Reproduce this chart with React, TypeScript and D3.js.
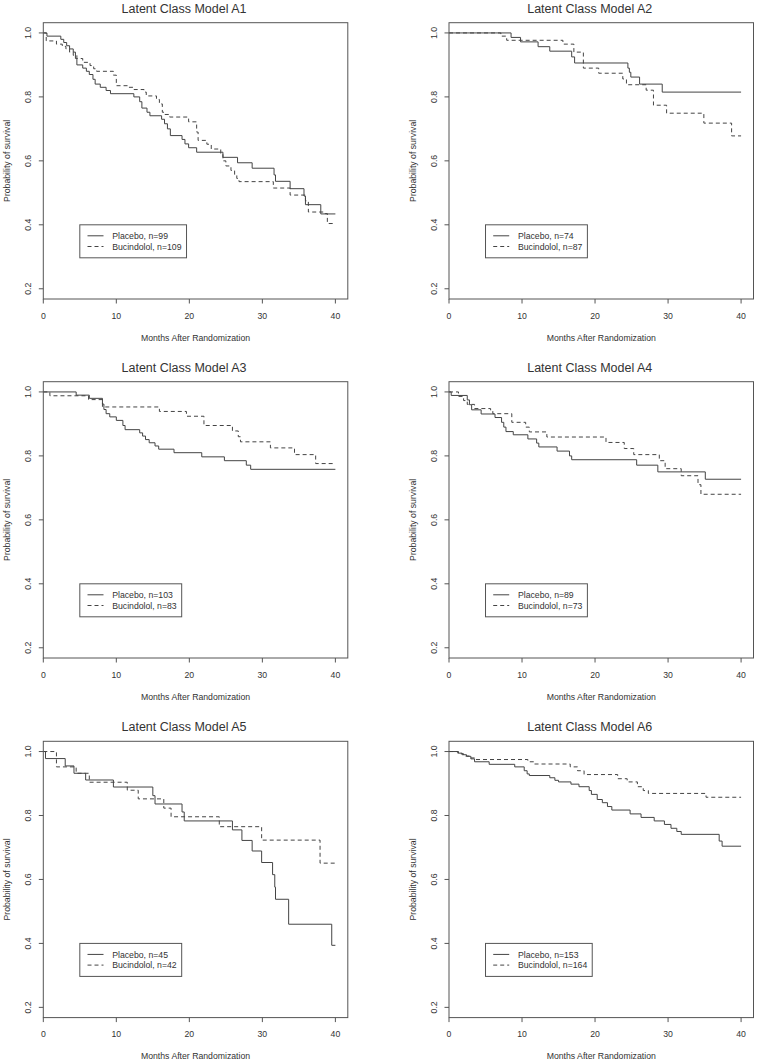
import React from 'react';
import * as d3 from 'd3';

type Pt = [number, number];

const titles = [
  'Latent Class Model A1',
  'Latent Class Model A2',
  'Latent Class Model A3',
  'Latent Class Model A4',
  'Latent Class Model A5',
  'Latent Class Model A6',
];
const placeboN = [99, 74, 103, 89, 45, 153];
const bucindololN = [109, 87, 83, 73, 42, 164];
const xTicks = [0, 10, 20, 30, 40];
const yTicks = [0.2, 0.4, 0.6, 0.8, 1.0];
const xLabel = 'Months After Randomization';
const yLabel = 'Probability of survival';

// [time (months), survival after that time]
const a1Placebo: Pt[] = [
  [0.5, 0.99], [2.4, 0.98], [2.8, 0.97], [3.2, 0.96], [3.6, 0.95], [4.1, 0.94], [4.4, 0.92], [4.6, 0.9],
  [5.4, 0.89], [5.9, 0.88], [6.3, 0.87], [6.8, 0.855], [7.1, 0.84], [7.8, 0.83], [8.6, 0.82], [9.2, 0.81],
  [12.4, 0.8], [13.2, 0.785], [13.5, 0.765], [14.2, 0.752], [14.6, 0.741], [16.2, 0.73], [16.6, 0.716],
  [17.0, 0.7], [17.4, 0.679], [19.0, 0.667], [19.4, 0.653], [19.9, 0.641], [21.0, 0.627], [24.6, 0.611],
  [26.6, 0.594], [28.6, 0.577], [31.6, 0.556], [31.8, 0.536], [33.8, 0.513], [35.7, 0.49], [35.9, 0.463],
  [38.0, 0.434],
];
const a1Bucindolol: Pt[] = [
  [0.4, 0.975], [1.8, 0.965], [2.6, 0.958], [3.1, 0.95], [3.6, 0.94], [4.1, 0.93], [4.6, 0.92], [5.4, 0.908],
  [6.4, 0.898], [6.9, 0.888], [7.3, 0.88], [9.6, 0.868], [10.0, 0.835], [11.7, 0.83], [12.4, 0.823],
  [13.8, 0.815], [14.1, 0.803], [15.5, 0.792], [15.9, 0.778], [16.3, 0.752], [16.6, 0.745], [17.3, 0.737],
  [19.9, 0.722], [21.0, 0.69], [21.2, 0.664], [22.4, 0.652], [23.0, 0.637], [24.3, 0.622], [24.6, 0.6],
  [25.0, 0.584], [25.7, 0.57], [26.2, 0.555], [26.5, 0.545], [26.8, 0.535], [31.5, 0.515], [33.8, 0.493],
  [35.9, 0.475], [36.3, 0.44], [38.6, 0.435], [38.9, 0.404],
];
const a2Placebo: Pt[] = [
  [8.5, 0.986], [9.8, 0.972], [12.2, 0.957], [13.8, 0.943], [16.8, 0.925], [17.2, 0.906], [24.5, 0.89],
  [24.7, 0.877], [24.9, 0.862], [26.1, 0.84], [29.2, 0.815],
];
const a2Bucindolol: Pt[] = [
  [7.1, 0.99], [7.9, 0.977], [15.6, 0.965], [17.1, 0.94], [18.4, 0.89], [20.5, 0.874], [23.8, 0.856],
  [24.3, 0.838], [27.0, 0.821], [28.0, 0.774], [29.8, 0.749], [34.9, 0.718], [38.7, 0.678],
];
const a3Placebo: Pt[] = [
  [4.5, 0.99], [6.3, 0.98], [8.1, 0.962], [8.3, 0.945], [8.6, 0.932], [9.1, 0.922], [10.0, 0.911],
  [10.9, 0.895], [11.2, 0.882], [13.2, 0.872], [13.6, 0.862], [14.0, 0.851], [14.5, 0.841], [15.3, 0.831],
  [15.8, 0.821], [17.9, 0.81], [21.7, 0.797], [24.8, 0.785], [27.8, 0.771], [28.4, 0.758],
];
const a3Bucindolol: Pt[] = [
  [0.9, 0.988], [6.2, 0.976], [8.1, 0.953], [15.9, 0.939], [19.6, 0.924], [22.0, 0.895], [25.9, 0.878],
  [26.7, 0.86], [27.0, 0.844], [31.1, 0.825], [34.4, 0.804], [37.3, 0.776],
];
const a4Placebo: Pt[] = [
  [0.3, 0.989], [2.5, 0.975], [2.8, 0.96], [3.1, 0.944], [4.4, 0.931], [6.3, 0.92], [7.2, 0.905],
  [7.5, 0.89], [7.8, 0.876], [8.8, 0.866], [10.8, 0.853], [12.0, 0.84], [12.3, 0.828], [14.8, 0.815],
  [16.5, 0.8], [16.8, 0.788], [25.7, 0.771], [28.6, 0.75], [35.1, 0.727],
];
const a4Bucindolol: Pt[] = [
  [1.3, 0.986], [2.0, 0.973], [2.5, 0.961], [3.5, 0.948], [5.7, 0.94], [6.0, 0.932], [8.6, 0.905],
  [10.5, 0.89], [11.0, 0.875], [13.4, 0.859], [21.5, 0.842], [24.0, 0.823], [25.3, 0.804], [28.8, 0.785],
  [29.6, 0.76], [31.8, 0.738], [34.1, 0.71], [34.5, 0.68],
];
const a5Placebo: Pt[] = [
  [0.3, 0.978], [3.0, 0.955], [4.2, 0.932], [5.8, 0.911], [9.6, 0.889], [15.0, 0.862], [15.3, 0.836],
  [19.0, 0.811], [19.3, 0.783], [25.9, 0.755], [27.2, 0.722], [28.6, 0.689], [29.9, 0.653], [31.4, 0.615],
  [31.7, 0.576], [31.8, 0.538], [33.6, 0.46], [39.5, 0.394],
];
const a5Bucindolol: Pt[] = [
  [1.8, 0.952], [4.5, 0.932], [6.3, 0.904], [11.5, 0.879], [13.0, 0.852], [16.5, 0.823], [17.5, 0.796],
  [24.1, 0.765], [29.9, 0.723], [37.9, 0.651],
];
const a6Placebo: Pt[] = [
  [1.2, 0.995], [1.8, 0.99], [2.4, 0.985], [3.0, 0.977], [3.5, 0.968], [5.5, 0.96], [9.0, 0.952],
  [10.3, 0.94], [10.7, 0.93], [11.0, 0.925], [13.8, 0.918], [14.5, 0.91], [15.0, 0.905], [16.7, 0.898],
  [17.8, 0.89], [19.2, 0.878], [19.5, 0.866], [20.3, 0.85], [21.0, 0.84], [21.7, 0.828], [22.3, 0.817],
  [24.8, 0.805], [26.3, 0.794], [28.1, 0.783], [29.5, 0.772], [30.4, 0.76], [31.2, 0.75], [31.8, 0.741],
  [37.0, 0.72], [37.4, 0.704],
];
const a6Bucindolol: Pt[] = [
  [1.3, 0.993], [2.0, 0.986], [2.8, 0.98], [3.5, 0.975], [10.8, 0.968], [11.6, 0.961], [16.6, 0.952],
  [17.6, 0.94], [18.5, 0.928], [23.1, 0.915], [24.4, 0.905], [25.8, 0.89], [26.6, 0.878], [27.3, 0.869],
  [35.2, 0.857],
];

const placeboCurves = [a1Placebo, a2Placebo, a3Placebo, a4Placebo, a5Placebo, a6Placebo];
const bucindololCurves = [a1Bucindolol, a2Bucindolol, a3Bucindolol, a4Bucindolol, a5Bucindolol, a6Bucindolol];

const W = 758;
const H = 1063;
const colLeft = [43.3, 449];
const rowTop = [22.7, 381.7, 741.3];
const boxW = 304.5;
const boxH = 276.3;
const FONT = '"Liberation Sans", Arial, Helvetica, sans-serif';
const TEXT = '#333';
const AXIS = '#555';
const LINE = '#444';
const smallSize = 8.7;

function measure(text: string, size: number): number {
  try {
    const c = document.createElement('canvas');
    const ctx = c.getContext('2d');
    if (ctx) {
      ctx.font = `${size}px "Liberation Sans", Arial, sans-serif`;
      return ctx.measureText(text).width;
    }
  } catch (e) {}
  return text.length * size * 0.52;
}

function stepPoints(data: Pt[]): Pt[] {
  const pts: Pt[] = [[0, 1]];
  data.forEach((d) => pts.push(d));
  pts.push([40, data[data.length - 1][1]]);
  return pts;
}

function Panel({ i }: { i: number }) {
  const left = colLeft[i % 2];
  const top = rowTop[Math.floor(i / 2)];
  const x = d3.scaleLinear().domain([0, 41.7]).range([left, left + boxW]);
  const y = d3.scaleLinear().domain([0.168, 1.032]).range([top + boxH, top]);
  const line = d3
    .line<Pt>()
    .x((d) => x(d[0]))
    .y((d) => y(d[1]))
    .curve(d3.curveStepAfter);
  const bottom = top + boxH;
  const cx = left + boxW / 2;
  const labels = [`Placebo, n=${placeboN[i]}`, `Bucindolol, n=${bucindololN[i]}`];
  const tw = Math.max(...labels.map((l) => measure(l, smallSize)));
  const lx = x(5);
  const ly = y(0.4);
  const lw = 32.4 + tw + 5;
  return (
    <g>
      <text x={cx - 11.5} y={top - 10} textAnchor="middle" fontSize={12.5} fill={TEXT} fontFamily={FONT}>
        {titles[i]}
      </text>
      <path d={line(stepPoints(placeboCurves[i])) || ''} fill="none" stroke={LINE} strokeWidth={1} />
      <path
        d={line(stepPoints(bucindololCurves[i])) || ''}
        fill="none"
        stroke={LINE}
        strokeWidth={1}
        strokeDasharray="4,3"
      />
      <rect x={left} y={top} width={boxW} height={boxH} fill="none" stroke={AXIS} strokeWidth={1} />
      {xTicks.map((t) => (
        <g key={'x' + t}>
          <line x1={x(t)} x2={x(t)} y1={bottom} y2={bottom + 4.5} stroke={AXIS} strokeWidth={1} />
          <text x={x(t)} y={bottom + 19.7} textAnchor="middle" fontSize={smallSize} fill={TEXT} fontFamily={FONT}>
            {t}
          </text>
        </g>
      ))}
      {yTicks.map((t) => (
        <g key={'y' + t}>
          <line x1={left - 4.5} x2={left} y1={y(t)} y2={y(t)} stroke={AXIS} strokeWidth={1} />
          <text
            transform={`translate(${left - 12},${y(t)}) rotate(-90)`}
            textAnchor="middle"
            fontSize={smallSize}
            fill={TEXT}
            fontFamily={FONT}
          >
            {t.toFixed(1)}
          </text>
        </g>
      ))}
      <text x={cx} y={bottom + 41.5} textAnchor="middle" fontSize={smallSize} fill={TEXT} fontFamily={FONT}>
        {xLabel}
      </text>
      <text
        transform={`translate(${left - 33.5},${top + boxH / 2}) rotate(-90)`}
        textAnchor="middle"
        fontSize={smallSize}
        fill={TEXT}
        fontFamily={FONT}
      >
        {yLabel}
      </text>
      <rect x={lx} y={ly} width={lw} height={33} fill="white" stroke={AXIS} strokeWidth={1} />
      {labels.map((l, k) => (
        <g key={l}>
          <line
            x1={lx + 7.7}
            x2={lx + 23.7}
            y1={ly + 11 + k * 10.7}
            y2={ly + 11 + k * 10.7}
            stroke={LINE}
            strokeWidth={1}
            strokeDasharray={k === 1 ? '4,3' : undefined}
          />
          <text x={lx + 32.4} y={ly + 11 + k * 10.7 + 3.1} fontSize={smallSize} fill={TEXT} fontFamily={FONT}>
            {l}
          </text>
        </g>
      ))}
    </g>
  );
}

export default function App() {
  return (
    <svg
      width={W}
      height={H}
      viewBox={`0 0 ${W} ${H}`}
      style={{ position: 'absolute', left: 0, top: 0, background: 'white' }}
    >
      <rect x={0} y={0} width={W} height={H} fill="white" />
      {titles.map((_, i) => (
        <Panel key={i} i={i} />
      ))}
    </svg>
  );
}
